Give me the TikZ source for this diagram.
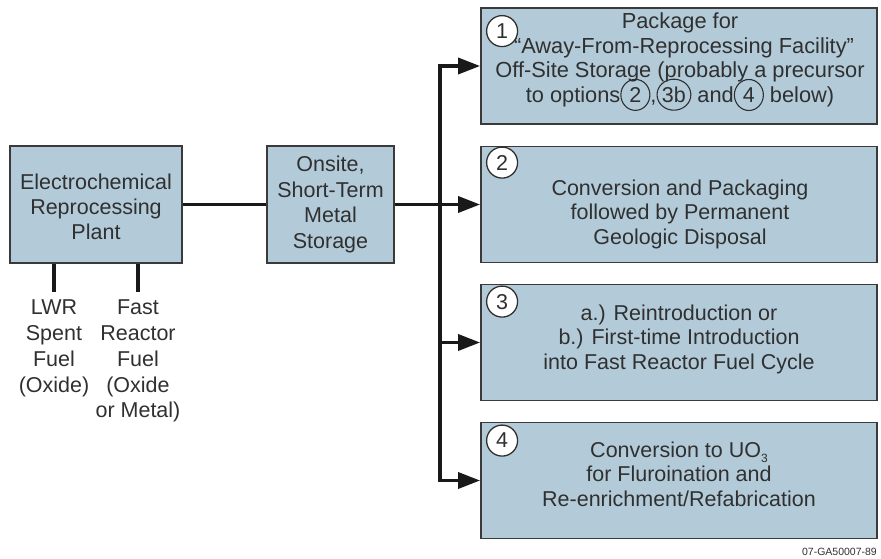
\documentclass[tikz,border=0pt]{standalone}
\usepackage{fontspec}
\setmainfont{Liberation Sans}
\usepackage{tikz}
\usetikzlibrary{arrows.meta,shapes.geometric}

\definecolor{boxblue}{HTML}{B3CBD9}
\definecolor{boxline}{HTML}{3A3A3A}
\definecolor{ink}{HTML}{303030}

% circled option number set inside a line of text
\newcommand{\optref}[1]{\smash{\tikz[baseline=(r.base)]\node[refmark] (r) {#1};}}

\begin{document}
\begin{tikzpicture}[x=1pt,y=-1pt,
  every node/.style={text=ink,font=\fontsize{21.5}{24.5}\selectfont},
  box/.style={draw=boxline,line width=1.8pt,fill=boxblue,rectangle,align=center,inner sep=0pt},
  optbox/.style={box,minimum width=396pt,minimum height=116pt},
  txt/.style={align=center,inner sep=0pt},
  numbox/.style={circle,draw=ink,line width=1.3pt,fill=white,minimum size=31pt,inner sep=0pt},
  refmark/.style={ellipse,draw=ink,line width=1.1pt,fill=none,minimum width=29pt,minimum height=31pt,inner sep=0pt},
  link/.style={line width=3.5pt,black!90},
  arr/.style={link,-{Triangle[length=22pt,width=16pt]}}]
\useasboundingbox (0,0) rectangle (881,559);

\node[box,minimum width=172pt,minimum height=117pt,font=\fontsize{21.5}{25}\selectfont] (plant) at (96,204.5) {\rule{0pt}{20.5pt}Electrochemical\\Reprocessing\\Plant};
\node[box,minimum width=127pt,minimum height=117pt,font=\fontsize{21.5}{25.5}\selectfont] (store) at (330.5,204.5) {Onsite,\\Short-Term\\Metal\\Storage};

% feed materials
\node[txt,anchor=north,font=\fontsize{21.5}{25.7}\selectfont] (lwr) at (54,300) {LWR\\Spent\\Fuel\\(Oxide)};
\node[txt,anchor=north,font=\fontsize{21.5}{25.7}\selectfont] (fast) at (138,300) {Fast\\Reactor\\Fuel\\(Oxide\\or Metal)};
\draw[link] (lwr.north |- plant.south) -- ([yshift=8pt]lwr.north);
\draw[link] (fast.north |- plant.south) -- ([yshift=8pt]fast.north);

% the four disposition options
\foreach \n/\y in {1/66,2/204.5,3/342.5,4/480.5} {
   \node[optbox] (opt\n) at (679,\y) {};
}
\foreach \n/\dy in {1/24,2/17,3/18,4/19} {
   \node[numbox] (num\n) at ([xshift=22pt,yshift=-\dy pt]opt\n.north west) {\n};
}
\node[txt,font=\fontsize{21.8}{24.5}\selectfont] (txt1) at (680,60)
   {Package for\\\hspace*{8pt}“Away-From-Reprocessing Facility”\\Off-Site Storage (probably a precursor\\to options\optref{2},\optref{3b} and\optref{4} below)};
\node[txt] (txt2) at (680,214) {Conversion and Packaging\\followed by Permanent\\Geologic Disposal};
\node[txt] (txt3) at (679,339) {a.) Reintroduction or\\b.) First-time Introduction\\into Fast Reactor Fuel Cycle};
\node[txt] (txt4) at (679,474) {Conversion to UO\raisebox{-5pt}{\fontsize{12}{12}\selectfont 3}\\for Fluroination and\\Re-enrichment/Refabrication};

% connectors
\coordinate (split) at (440,204.5);
\draw[link] (plant) -- (store);
\draw[link] (store) -- (split);
\foreach \n in {1,...,4} {
   \draw[arr] (split) |- (opt\n.west);
}

\node[anchor=south east,inner sep=0pt,font=\fontsize{10.5}{12}\selectfont] (tag) at (877,556) {07-GA50007-89};
\end{tikzpicture}
\end{document}
